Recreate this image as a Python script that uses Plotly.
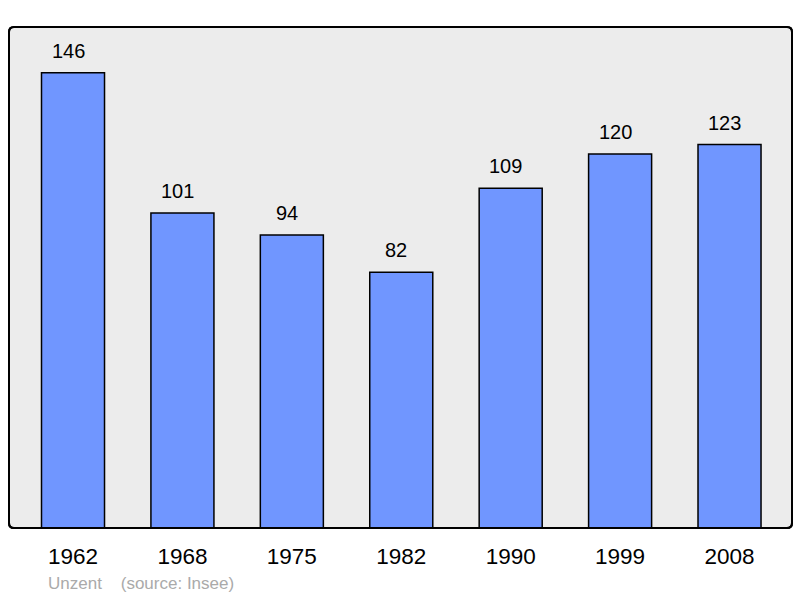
import plotly.graph_objects as go

years = ["1962", "1968", "1975", "1982", "1990", "1999", "2008"]
population = [146, 101, 94, 82, 109, 120, 123]
footer_text = "Unzent\u00a0\u00a0\u00a0\u00a0(source: Insee)"

W, H = 800, 598
L, R, T, B = 9, 8, 27, 70
pw, ph = W - L - R, H - T - B
FONT = "Liberation Sans, Arial, sans-serif"

fig = go.Figure()
fig.add_trace(go.Bar(
    x=list(range(len(years))), y=population,
    width=0.576,
    marker=dict(color="#7096ff", line=dict(color="#000000", width=1.5)),
    hoverinfo="skip",
))

for i, v in enumerate(population):
    fig.add_annotation(x=i, y=v, text=str(v), showarrow=False, yshift=22, xshift=-5,
                       yanchor="middle", font=dict(size=20, color="#000000", family=FONT))

# rounded plot frame
r = 5
rx, ry = r / pw, r / ph
path = (f"M {rx},0 L {1-rx},0 Q 1,0 1,{ry} L 1,{1-ry} Q 1,1 {1-rx},1 "
        f"L {rx},1 Q 0,1 0,{1-ry} L 0,{ry} Q 0,0 {rx},0 Z")
fig.add_shape(type="path", path=path, xref="paper", yref="paper",
              fillcolor="#ececec", line=dict(color="#000000", width=2), layer="below")
fig.add_shape(type="path", path=path, xref="paper", yref="paper",
              fillcolor="rgba(0,0,0,0)", line=dict(color="#000000", width=2), layer="above")

fig.add_annotation(x=(46 - L) / pw, y=-(583 - T - ph) / ph, xref="paper", yref="paper",
                   text=footer_text, showarrow=False, xanchor="left", yanchor="middle",
                   font=dict(size=17, color="#aaaaaa", family=FONT))

fig.update_layout(
    width=W, height=H,
    margin=dict(l=L, r=R, t=T, b=B),
    paper_bgcolor="#ffffff", plot_bgcolor="rgba(0,0,0,0)",
    showlegend=False,
    font=dict(family=FONT, color="#000000"),
    xaxis=dict(range=[-0.585, 6.571], tickmode="array", tickvals=list(range(len(years))),
               ticktext=years, showgrid=False, zeroline=False, showline=False,
               ticks="", tickfont=dict(size=22.5, color="#000000"), ticklabelstandoff=12),
    yaxis=dict(range=[0, 160.7], showgrid=False, zeroline=False, showline=False,
               showticklabels=False, ticks=""),
)

fig.write_html("out.html", config={"displayModeBar": False},
               post_script="document.body.style.margin='0';document.body.style.padding='0';")
